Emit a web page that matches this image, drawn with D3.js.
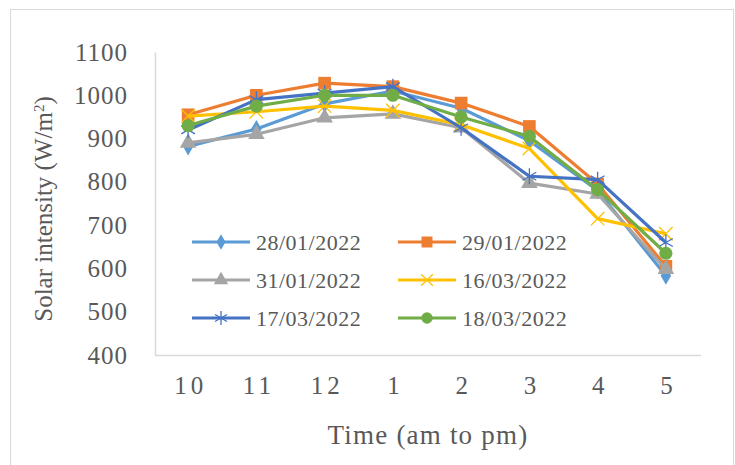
<!DOCTYPE html>
<html>
<head>
<meta charset="utf-8">
<script src="https://cdn.jsdelivr.net/npm/d3@7"></script>
<style>
  body { margin: 0; background: #fff; }
  text { font-family: "Liberation Serif", "Times New Roman", serif; fill: #595959; }
</style>
</head>
<body>
<svg id="chart" width="735" height="465"></svg>
<script>
const hours = ["10", "11", "12", "1", "2", "3", "4", "5"];
const yTicks = [400, 500, 600, 700, 800, 900, 1000, 1100];
const dates = ["28/01/2022", "29/01/2022", "31/01/2022", "16/03/2022", "17/03/2022", "18/03/2022"];
const jan28 = [882, 922, 980, 1010, 970, 895, 780, 583];
const jan29 = [955, 1000, 1028, 1020, 982, 928, 795, 605];
const jan31 = [890, 910, 948, 957, 925, 797, 772, 598];
const mar16 = [952, 962, 975, 965, 932, 877, 715, 680];
const mar17 = [920, 990, 1005, 1020, 925, 813, 805, 660];
const mar18 = [930, 975, 1000, 1000, 950, 905, 782, 635];

const colors = ["#5B9BD5", "#ED7D31", "#A5A5A5", "#FFC000", "#4472C4", "#70AD47"];
const symbols = [d3.symbolDiamond, d3.symbolSquare, d3.symbolTriangle, d3.symbolTimes, d3.symbolAsterisk, d3.symbolCircle];
const symSize = [95, 160, 120, 120, 180, 135];
const stroked = [false, false, false, true, true, false];

const series = [jan28, jan29, jan31, mar16, mar17, mar18].map((vals, i) => ({
    name: dates[i], color: colors[i], symbol: symbols[i], size: symSize[i], stroke: stroked[i],
    values: vals.map((v, j) => ({ hour: hours[j], value: v }))
}));

const svg = d3.select("#chart");

// outer frame
svg.append("rect")
    .attr("x", 10.5).attr("y", 9.5)
    .attr("width", 723).attr("height", 470)
    .attr("fill", "none").attr("stroke", "#d9d9d9");

const xScale = d3.scalePoint().domain(hours).range([154, 700]).padding(0.5);
const yScale = d3.scaleLinear().domain([400, 1100]).range([355, 52]);

// axes
const gy = svg.append("g")
    .attr("transform", "translate(155,0)")
    .call(d3.axisLeft(yScale).tickValues(yTicks).tickFormat(d3.format("d")).tickSize(0).tickPadding(27));
gy.select(".domain").attr("stroke", "#d9d9d9").attr("stroke-width", 1.5);
gy.selectAll("text").style("font-size", "25px").attr("letter-spacing", "1px").attr("fill", "#595959");

svg.append("line")
    .attr("x1", 155).attr("x2", 701)
    .attr("y1", 355.5).attr("y2", 355.5)
    .attr("stroke", "#d9d9d9").attr("stroke-width", 1.5);

const gx = svg.append("g")
    .attr("transform", "translate(0,355)")
    .call(d3.axisBottom(xScale).tickSize(0).tickPadding(21));
gx.select(".domain").remove();
gx.selectAll("text").style("font-size", "25px").attr("letter-spacing", "4px").attr("dx", "2px").attr("fill", "#595959");

// axis titles
svg.append("text")
    .attr("x", 428).attr("y", 444)
    .attr("text-anchor", "middle")
    .attr("letter-spacing", "1.2px")
    .style("font-size", "27px")
    .text("Time (am to pm)");

const yt = svg.append("text")
    .attr("transform", "translate(52,209) rotate(-90)")
    .attr("text-anchor", "middle")
    .style("font-size", "25px");
yt.append("tspan").text("Solar intensity (W/m");
yt.append("tspan").attr("baseline-shift", "super").style("font-size", "15px").text("2");
yt.append("tspan").text(")");

// lines and markers
const line = d3.line().x(d => xScale(d.hour)).y(d => yScale(d.value));

function drawMarker(g, s, scale) {
    g.attr("d", d3.symbol().type(s.symbol).size(s.size * scale)())
        .attr("fill", s.stroke ? "none" : s.color)
        .attr("stroke", s.color)
        .attr("stroke-width", s.stroke ? 1.3 : 0);
}

const gs = svg.selectAll(".series").data(series).enter().append("g").attr("class", "series");
gs.append("path")
    .attr("d", d => line(d.values))
    .attr("fill", "none")
    .attr("stroke", d => d.color)
    .attr("stroke-width", 3.2)
    .attr("stroke-linejoin", "round");
gs.each(function (s) {
    d3.select(this).selectAll(".mk").data(s.values).enter().append("path")
        .attr("class", "mk")
        .attr("transform", d => "translate(" + xScale(d.hour) + "," + yScale(d.value) + ")")
        .call(drawMarker, s, 1);
});

// legend
const legend = svg.selectAll(".leg").data(series).enter().append("g")
    .attr("class", "leg")
    .attr("transform", (d, i) => "translate(" + (i % 2 === 0 ? 192 : 398) + "," + (242 + Math.floor(i / 2) * 38) + ")");
legend.append("line")
    .attr("x1", 0).attr("x2", 58).attr("y1", 0).attr("y2", 0)
    .attr("stroke", d => d.color).attr("stroke-width", 3.2);
legend.append("path")
    .attr("transform", "translate(29,0)")
    .each(function (s) { d3.select(this).call(drawMarker, s, 0.75); });
legend.append("text")
    .attr("x", 64).attr("y", 0).attr("dy", "0.35em")
    .style("font-size", "22px")
    .attr("letter-spacing", "0.5px")
    .text(d => d.name);
</script>
</body>
</html>
